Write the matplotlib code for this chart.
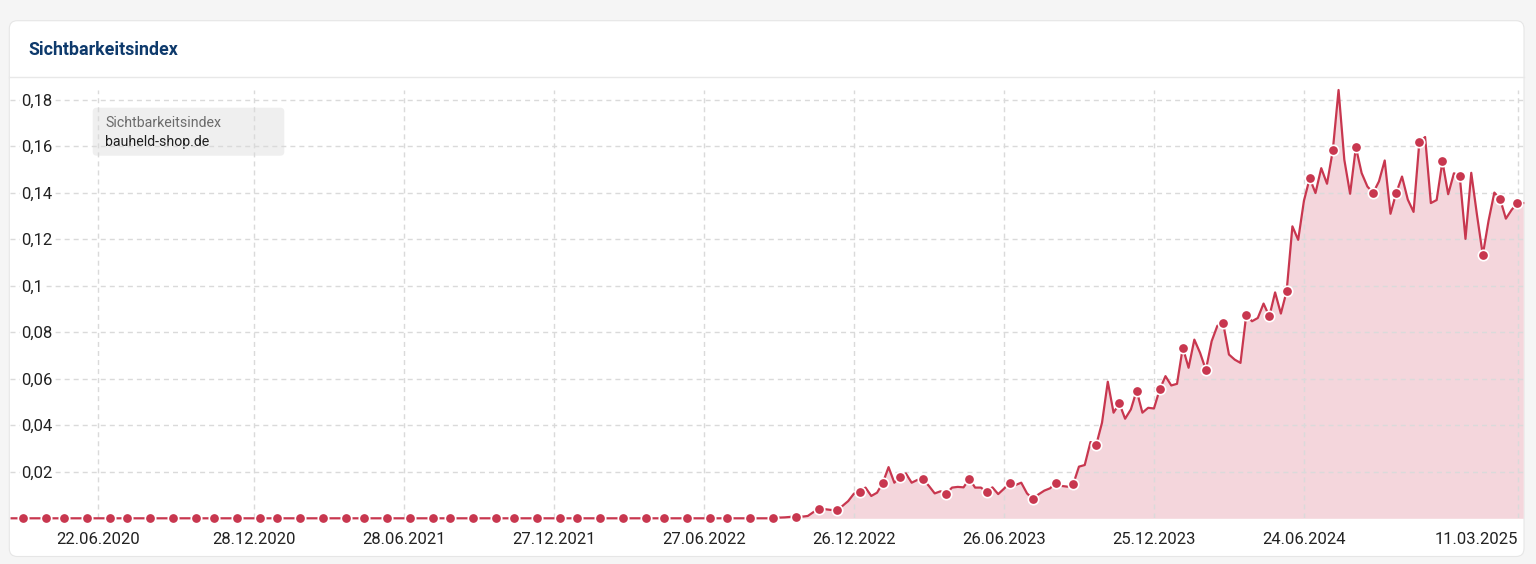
import matplotlib.pyplot as plt
from matplotlib.patches import FancyBboxPatch
import numpy as np
import pandas as pd

plt.rcParams['font.family'] = ['Roboto', 'DejaVu Sans']

# weekly visibility index, first value is the week of 09.03.2020
start_week = '2020-03-09'
visibility = [
    0.0, 0.0, 0.0, 0.0, 0.0, 0.0, 0.0, 0.0, 0.0, 0.0, 0.0, 0.0,
    0.0, 0.0, 0.0, 0.0, 0.0, 0.0, 0.0, 0.0, 0.0, 0.0, 0.0, 0.0,
    0.0, 0.0, 0.0, 0.0, 0.0, 0.0, 0.0, 0.0, 0.0, 0.0, 0.0, 0.0,
    0.0, 0.0, 0.0, 0.0, 0.0, 0.0, 0.0, 0.0, 0.0, 0.0, 0.0, 0.0,
    0.0, 0.0, 0.0, 0.0, 0.0, 0.0, 0.0, 0.0, 0.0, 0.0, 0.0, 0.0,
    0.0, 0.0, 0.0, 0.0, 0.0, 0.0, 0.0, 0.0, 0.0, 0.0, 0.0, 0.0,
    0.0, 0.0, 0.0, 0.0, 0.0, 0.0, 0.0, 0.0, 0.0, 0.0, 0.0, 0.0,
    0.0, 0.0, 0.0, 0.0, 0.0, 0.0, 0.0, 0.0, 0.0, 0.0, 0.0, 0.0,
    0.0, 0.0, 0.0, 0.0, 0.0, 0.0, 0.0, 0.0, 0.0, 0.0, 0.0, 0.0,
    0.0, 0.0, 0.0, 0.0, 0.0, 0.0, 0.0, 0.0, 0.0, 0.0, 0.0, 0.0,
    0.0, 0.0, 0.0, 0.0, 0.0, 0.0, 0.0, 0.0, 0.0, 0.0, 0.0, 0.0,
    0.0003, 0.0003, 0.0004, 0.0006, 0.0007, 0.0007, 0.001, 0.0027,
    0.004, 0.0039, 0.0036, 0.0034, 0.0053, 0.0074, 0.0106, 0.0114,
    0.0132, 0.0096, 0.011, 0.0152, 0.022, 0.0153, 0.0179, 0.0193,
    0.0153, 0.0165, 0.0167, 0.0139, 0.0107, 0.0116, 0.0106, 0.0132,
    0.0135, 0.0133, 0.017, 0.0132, 0.0132, 0.0114, 0.0133, 0.0104,
    0.0127, 0.0152, 0.0143, 0.0153, 0.0107, 0.0084, 0.0103, 0.0119,
    0.0129, 0.0152, 0.0139, 0.0136, 0.0146, 0.0222, 0.0229, 0.0328,
    0.0316, 0.0411, 0.0587, 0.0454, 0.0494, 0.0428, 0.0468, 0.0549,
    0.0454, 0.0475, 0.0472, 0.0554, 0.0611, 0.0571, 0.0578, 0.0734,
    0.0647, 0.0768, 0.0711, 0.0638, 0.0761, 0.0828, 0.0838, 0.0704,
    0.0682, 0.0668, 0.0874, 0.0847, 0.0861, 0.0923, 0.0868, 0.0971,
    0.088, 0.0976, 0.1255, 0.1197, 0.1365, 0.1462, 0.1398, 0.1505,
    0.1438, 0.1581, 0.1841, 0.1541, 0.1395, 0.1595, 0.1484, 0.1426,
    0.1399, 0.1448, 0.1538, 0.1309, 0.1399, 0.1469, 0.137, 0.1317,
    0.1616, 0.1639, 0.1355, 0.1368, 0.1534, 0.1393, 0.1483, 0.1472,
    0.1201, 0.1485, 0.1303, 0.1132, 0.1279, 0.140, 0.1373, 0.1288,
    0.1326, 0.1355, 0.1355,
]
# weeks that carry a dot
marker_weeks = [2, 6, 9, 13, 17, 20, 24, 28, 32, 35, 39, 43, 46, 50, 54, 58,
                61, 65, 69, 73, 76, 80, 84, 87, 91, 95, 98, 102, 106, 110, 113,
                117, 121, 124, 128, 132, 136, 140, 143, 147, 151, 154, 158, 162,
                166, 169, 173, 177, 181, 184, 188, 192, 195, 199, 203, 207, 210,
                214, 218, 221, 225, 229, 233, 236, 240, 244, 248, 251, 255, 258,
                261]

tick_dates = ['2020-06-22', '2020-12-28', '2021-06-28', '2021-12-27', '2022-06-27',
              '2022-12-26', '2023-06-26', '2023-12-25', '2024-06-24', '2025-03-11']
tick_labels = ['22.06.2020', '28.12.2020', '28.06.2021', '27.12.2021', '27.06.2022',
               '26.12.2022', '26.06.2023', '25.12.2023', '24.06.2024', '11.03.2025']
y_ticks = [0.02, 0.04, 0.06, 0.08, 0.1, 0.12, 0.14, 0.16, 0.18]
y_labels = ['0,02', '0,04', '0,06', '0,08', '0,1', '0,12', '0,14', '0,16', '0,18']

weeks = pd.date_range(start_week, periods=len(visibility), freq='7D')
vals = np.array(visibility)

red = '#c8374f'
W, H = 1536, 564
fig = plt.figure(figsize=(W / 100, H / 100), dpi=100)
fig.patch.set_facecolor('#f5f5f5')

# card + header in pixel space
bg = fig.add_axes([0, 0, 1, 1])
bg.set_xlim(0, W)
bg.set_ylim(H, 0)
bg.axis('off')
bg.add_patch(FancyBboxPatch((9.3, 20.7), 1524 - 9.3, 556.5 - 20.7,
                            boxstyle='round,pad=0,rounding_size=8',
                            fc='white', ec='#e6e6e6', lw=0.8))
bg.plot([9.3, 1524], [77.3, 77.3], color='#e8e8e8', lw=1)
bg.text(28, 55, 'Sichtbarkeitsindex', fontsize=12.8, fontweight='bold',
        color='#0e3a6c', va='baseline', ha='left')

ax = fig.add_axes([10 / W, (H - 518.3) / H, (1524 - 10) / W, (518.3 - 90) / H])
ax.set_facecolor('none')

ax.fill_between(weeks, vals, color='#f4d6dc', lw=0, zorder=1)
ax.plot(weeks, vals, color=red, lw=1.6, zorder=2, clip_on=False)
ax.plot(weeks[marker_weeks], vals[marker_weeks], 'o', ms=7.5, mfc=red,
        mec='white', mew=1.2, clip_on=False, zorder=3)

ax.set_xlim(pd.Timestamp('2020-03-07'), pd.Timestamp('2025-03-18'))
ax.set_ylim(0, max(visibility))

ax.set_axisbelow('line')
ax.grid(True, ls=(0, (3.6, 2.9)), color='#dadada', lw=1)
for s in ax.spines.values():
    s.set_visible(False)

ax.set_xticks(pd.to_datetime(tick_dates), tick_labels)
ax.set_yticks(y_ticks, y_labels)
ax.tick_params(axis='both', length=0, colors='#222222', labelsize=12)
ax.tick_params(axis='y', pad=-8)
ax.tick_params(axis='x', pad=10)
for lbl in ax.get_yticklabels():
    lbl.set_ha('left')
    lbl.set_bbox(dict(fc='white', ec='none', pad=0.6))
ax.get_xticklabels()[-1].set_ha('right')

# series tag in the upper left
bg.add_patch(FancyBboxPatch((92.7, 107.7), 284.3 - 92.7, 155.7 - 107.7,
                            boxstyle='round,pad=0,rounding_size=4',
                            fc='#efefef', ec='none', zorder=5))
bg.text(105, 127.3, 'Sichtbarkeitsindex', fontsize=10.2, color='#6b6b6b',
        va='baseline', zorder=6)
bg.text(105, 145.7, 'bauheld-shop.de', fontsize=10.2, color='#1e1e1e',
        va='baseline', zorder=6)

fig.savefig('out.png', dpi=100, facecolor=fig.get_facecolor())
